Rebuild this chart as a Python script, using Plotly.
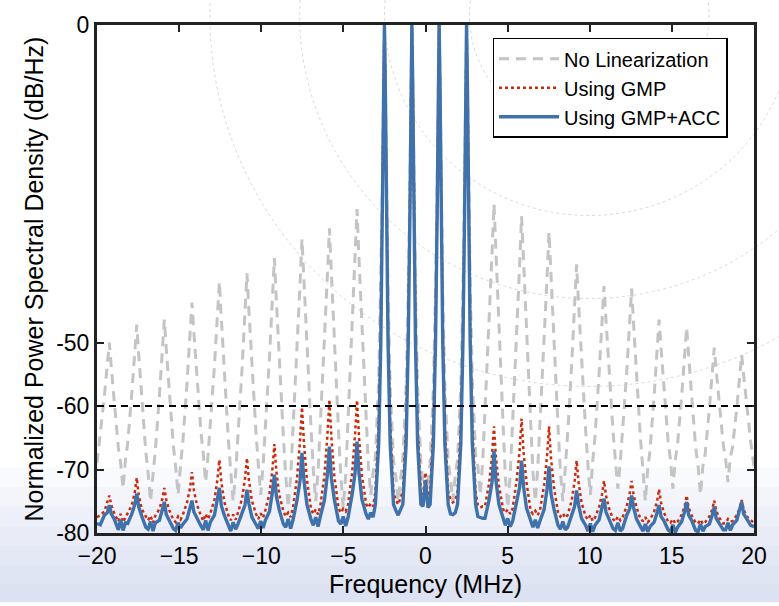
import plotly.graph_objects as go

# ---------------- data ----------------
freq_mhz = [
    -20.0,
    -19.8, -19.55, -19.37, -19.25, -19.13, -18.95, -18.7,
    -18.56, -18.415, -18.27,
    -18.13, -17.88, -17.7, -17.58, -17.46, -17.28, -17.03,
    -16.89, -16.74, -16.59,
    -16.45, -16.2, -16.02, -15.9, -15.78, -15.6, -15.35,
    -15.21, -15.06, -14.91,
    -14.77, -14.52, -14.34, -14.22, -14.1, -13.92, -13.67,
    -13.53, -13.385, -13.24,
    -13.1, -12.85, -12.67, -12.55, -12.43, -12.25, -12.0,
    -11.86, -11.71, -11.56,
    -11.42, -11.17, -10.99, -10.87, -10.75, -10.57, -10.32,
    -10.18, -10.035, -9.89,
    -9.75, -9.5, -9.32, -9.2, -9.08, -8.9, -8.65,
    -8.51, -8.36, -8.21,
    -8.07, -7.82, -7.64, -7.52, -7.4, -7.22, -6.97,
    -6.83, -6.685, -6.54,
    -6.4, -6.15, -5.97, -5.85, -5.73, -5.55, -5.3,
    -5.16, -5.01, -4.86,
    -4.72, -4.47, -4.29, -4.17, -4.05, -3.87, -3.62,
    -3.48, -3.335, -3.19,
    -3.05, -2.85, -2.72, -2.62, -2.55, -2.5, -2.45, -2.38, -2.28, -2.15, -1.95,
    -1.81, -1.665, -1.52,
    -1.38, -1.18, -1.05, -0.95, -0.88, -0.83, -0.78, -0.71, -0.61, -0.48, -0.28,
    -0.15, 0.0, 0.15,
    0.28, 0.48, 0.61, 0.71, 0.78, 0.83, 0.88, 0.95, 1.05, 1.18, 1.38,
    1.52, 1.665, 1.81,
    1.95, 2.15, 2.28, 2.38, 2.45, 2.5, 2.55, 2.62, 2.72, 2.85, 3.05,
    3.19, 3.335, 3.48,
    3.62, 3.87, 4.05, 4.17, 4.29, 4.47, 4.72,
    4.86, 5.01, 5.16,
    5.3, 5.55, 5.73, 5.85, 5.97, 6.15, 6.4,
    6.54, 6.685, 6.83,
    6.97, 7.22, 7.4, 7.52, 7.64, 7.82, 8.07,
    8.21, 8.36, 8.51,
    8.65, 8.9, 9.08, 9.2, 9.32, 9.5, 9.75,
    9.89, 10.035, 10.18,
    10.32, 10.57, 10.75, 10.87, 10.99, 11.17, 11.42,
    11.56, 11.71, 11.86,
    12.0, 12.25, 12.43, 12.55, 12.67, 12.85, 13.1,
    13.24, 13.385, 13.53,
    13.67, 13.92, 14.1, 14.22, 14.34, 14.52, 14.77,
    14.91, 15.06, 15.21,
    15.35, 15.6, 15.78, 15.9, 16.02, 16.2, 16.45,
    16.59, 16.74, 16.89,
    17.03, 17.28, 17.46, 17.58, 17.7, 17.88, 18.13,
    18.27, 18.415, 18.56,
    18.7, 18.95, 19.13, 19.25, 19.37, 19.55, 19.8,
    20.0,
]

psd_no_lin = [
    -69.0,
    -64.4, -58.4, -53.4, -50.0, -53.9, -59.7, -66.6,
    -69.0, -73.0, -68.5,
    -65.8, -58.0, -51.6, -47.2, -51.9, -58.9, -67.2,
    -70.5, -75.0, -70.8,
    -67.0, -58.4, -51.3, -46.4, -51.1, -58.0, -66.3,
    -69.6, -74.0, -69.2,
    -65.5, -56.4, -48.9, -43.7, -48.5, -55.6, -64.1,
    -67.5, -72.0, -67.8,
    -63.2, -53.7, -45.8, -40.4, -46.3, -54.9, -65.3,
    -70.3, -75.0, -70.6,
    -64.9, -54.2, -45.2, -39.1, -45.0, -53.8, -64.2,
    -69.2, -74.0, -69.5,
    -63.6, -52.4, -43.0, -36.7, -43.4, -53.2, -65.0,
    -71.0, -76.0, -71.2,
    -64.2, -51.5, -40.9, -33.7, -40.7, -51.0, -63.4,
    -70.0, -75.0, -70.3,
    -63.0, -50.1, -39.3, -32.0, -39.5, -50.5, -63.7,
    -70.8, -76.0, -71.0,
    -62.8, -48.7, -37.0, -29.0, -36.7, -47.9, -61.4,
    -69.2, -74.0, -70.5,
    -68.0, -56.0, -41.0, -25.0, -8.0, 0.0, -8.0, -25.0, -42.0, -57.0, -68.5,
    -71.0, -75.0, -71.5,
    -68.5, -57.0, -42.0, -25.0, -8.0, 0.0, -8.0, -25.0, -42.0, -57.0, -69.0,
    -72.0, -74.0, -72.0,
    -69.0, -57.0, -42.0, -25.0, -8.0, 0.0, -8.0, -25.0, -42.0, -57.0, -68.5,
    -71.5, -75.0, -71.0,
    -68.5, -57.0, -42.0, -25.0, -8.0, 0.0, -8.0, -25.0, -41.0, -56.0, -67.5,
    -69.5, -74.0, -68.8,
    -61.2, -47.4, -36.0, -28.2, -36.3, -48.3, -62.6,
    -71.1, -76.0, -70.8,
    -63.1, -49.4, -37.9, -30.1, -37.7, -49.0, -62.4,
    -70.3, -75.0, -70.0,
    -63.1, -50.4, -39.8, -32.6, -39.9, -50.5, -63.3,
    -70.1, -75.0, -69.7,
    -64.6, -53.4, -44.0, -37.7, -43.9, -52.9, -63.8,
    -69.3, -74.0, -68.7,
    -64.8, -54.9, -46.7, -41.1, -46.5, -54.5, -64.1,
    -68.5, -73.0, -68.8,
    -64.2, -54.7, -46.9, -41.5, -47.2, -55.6, -65.6,
    -70.1, -75.0, -69.9,
    -67.0, -58.4, -51.3, -46.4, -50.9, -57.6, -65.6,
    -68.3, -73.0, -68.5,
    -65.9, -58.3, -51.9, -47.6, -52.1, -58.7, -66.6,
    -69.2, -74.0, -69.4,
    -67.5, -60.5, -54.7, -50.8, -54.4, -59.7, -66.1,
    -68.3, -72.0, -68.1,
    -66.4, -60.3, -55.3, -51.9, -55.1, -59.9, -65.7,
    -69.5,
]

psd_gmp = [
    -77.5,
    -77.2, -76.6, -75.3, -74.1, -75.6, -76.9, -78.2,
    -77.0, -78.3, -77.6,
    -77.0, -75.6, -73.6, -71.3, -74.0, -76.2, -77.4,
    -78.0, -77.3, -78.4,
    -77.3, -76.2, -74.6, -72.9, -74.8, -76.4, -77.9,
    -78.3, -77.4, -77.9,
    -77.1, -75.2, -73.0, -70.4, -73.3, -75.5, -77.3,
    -78.1, -77.0, -77.8,
    -76.9, -74.8, -71.6, -68.5, -71.9, -75.1, -77.2,
    -78.0, -77.1, -77.9,
    -76.8, -74.6, -71.4, -68.2, -71.7, -74.9, -77.0,
    -77.8, -76.9, -77.6,
    -76.4, -73.8, -70.0, -66.0, -70.3, -74.0, -76.6,
    -77.4, -76.8, -77.5,
    -76.0, -71.3, -65.5, -60.2, -65.8, -71.6, -76.2,
    -77.0, -76.3, -77.1,
    -75.7, -70.8, -64.6, -59.0, -64.9, -71.0, -76.0,
    -76.8, -76.2, -76.6,
    -75.6, -70.6, -64.5, -59.1, -64.8, -70.9, -75.4,
    -76.0, -75.3, -75.8,
    -73.5, -63.0, -48.0, -29.0, -9.0, 0.0, -9.0, -29.0, -48.0, -63.0, -73.5,
    -74.8, -75.5, -74.5,
    -73.5, -63.0, -48.0, -29.0, -9.0, 0.0, -9.0, -29.0, -48.0, -63.0, -73.5,
    -74.0, -70.5, -74.2,
    -73.5, -63.0, -48.0, -29.0, -9.0, 0.0, -9.0, -29.0, -48.0, -63.0, -73.5,
    -74.6, -75.2, -74.9,
    -73.5, -63.0, -48.0, -29.0, -9.5, -0.8, -9.5, -29.0, -48.0, -63.0, -73.5,
    -75.6, -76.0, -75.8,
    -75.8, -72.2, -67.8, -63.2, -68.1, -72.5, -76.2,
    -76.8, -76.3, -77.0,
    -76.2, -71.7, -67.0, -62.0, -67.3, -72.0, -76.5,
    -77.0, -76.5, -77.2,
    -76.4, -72.5, -67.9, -63.2, -68.2, -72.8, -76.8,
    -77.4, -76.9, -77.6,
    -77.2, -74.9, -71.8, -68.6, -72.0, -75.2, -77.4,
    -77.9, -77.2, -78.1,
    -77.6, -75.9, -73.9, -71.8, -74.1, -76.1, -77.8,
    -78.2, -77.4, -78.0,
    -77.5, -75.8, -73.8, -71.8, -74.0, -76.0, -77.9,
    -78.1, -77.5, -78.3,
    -77.9, -76.6, -75.0, -73.1, -75.2, -76.8, -78.2,
    -78.4, -77.8, -78.5,
    -78.2, -77.1, -75.8, -74.1, -76.0, -77.2, -78.4,
    -78.5, -77.9, -78.6,
    -78.3, -77.4, -76.3, -74.9, -76.5, -77.6, -78.5,
    -78.4, -77.8, -78.2,
    -78.1, -77.2, -76.1, -74.8, -76.3, -77.4, -78.0,
    -78.4,
]

psd_gmp_acc = [
    -78.5,
    -78.7, -77.2, -76.8, -75.6, -77.0, -77.8, -79.5,
    -77.9, -79.6, -78.4,
    -78.5, -77.0, -75.5, -73.8, -75.9, -77.3, -79.1,
    -79.4, -78.2, -79.7,
    -78.4, -78.0, -76.4, -75.1, -77.1, -78.0, -79.3,
    -79.6, -78.4, -79.2,
    -78.6, -77.8, -76.1, -74.9, -76.7, -77.7, -78.9,
    -79.5, -78.0, -79.6,
    -78.3, -77.2, -75.0, -72.9, -75.7, -77.2, -78.8,
    -79.7, -78.3, -79.4,
    -78.6, -76.9, -75.6, -73.2, -75.4, -77.5, -78.5,
    -79.3, -78.1, -79.2,
    -78.0, -76.6, -73.6, -70.8, -74.2, -76.4, -78.6,
    -79.1, -77.8, -79.3,
    -78.0, -74.8, -71.8, -67.4, -71.7, -75.5, -77.9,
    -78.8, -77.5, -79.0,
    -77.4, -74.8, -70.7, -66.4, -71.4, -74.7, -78.1,
    -78.6, -77.4, -78.9,
    -77.6, -74.0, -70.6, -65.6, -70.5, -74.7, -77.0,
    -77.8, -76.8, -77.5,
    -75.5, -66.0, -50.0, -30.0, -9.0, 0.0, -9.0, -30.0, -50.0, -66.0, -75.5,
    -76.4, -77.2, -76.3,
    -75.5, -66.0, -50.0, -30.0, -9.0, 0.0, -9.0, -30.0, -50.0, -66.0, -75.5,
    -75.8, -71.7, -76.0,
    -75.5, -66.0, -50.0, -30.0, -9.0, 0.0, -9.0, -30.0, -50.0, -66.0, -75.5,
    -77.0, -77.1, -76.8,
    -75.5, -66.0, -50.0, -30.0, -9.0, 0.0, -9.0, -30.0, -50.0, -66.0, -75.5,
    -77.4, -77.6, -77.7,
    -77.7, -74.8, -72.0, -67.1, -71.8, -75.5, -77.6,
    -78.8, -77.7, -79.0,
    -78.2, -75.4, -72.8, -68.6, -72.7, -76.1, -78.0,
    -79.1, -77.9, -79.2,
    -78.1, -76.3, -73.1, -69.5, -73.8, -76.2, -78.8,
    -79.4, -78.2, -79.5,
    -79.1, -77.1, -75.8, -73.3, -75.6, -77.7, -78.8,
    -79.7, -78.5, -79.8,
    -78.8, -77.9, -76.1, -74.6, -76.7, -77.7, -79.3,
    -79.6, -78.4, -79.7,
    -79.3, -77.2, -76.2, -74.1, -76.0, -77.8, -79.0,
    -79.7, -78.6, -79.8,
    -79.0, -78.3, -76.8, -75.6, -77.4, -78.1, -79.5,
    -79.8, -78.7, -79.9,
    -79.1, -78.2, -76.6, -75.1, -77.2, -78.0, -79.6,
    -79.8, -78.6, -79.7,
    -79.0, -78.6, -77.2, -75.9, -77.7, -78.4, -79.5,
    -79.5, -78.4, -79.6,
    -78.7, -78.0, -76.4, -75.1, -77.0, -77.7, -78.8,
    -79.0,
]

series_names = ["No Linearization", "Using GMP", "Using GMP+ACC"]
x_ticks = [-20, -15, -10, -5, 0, 5, 10, 15, 20]
y_ticks = [-80, -70, -60, -50, 0]
y_tick_text = ["-80", "-70", "-60", "-50", "0"]
threshold_db = -60

# ---------------- figure ----------------
FONT = "Liberation Sans, Arial, Helvetica, sans-serif"
W, H = 779, 606
ML, MR, MT, MB = 97, 24, 17, 69
PW, PH = W - ML - MR, H - MT - MB

fig = go.Figure()
fig.add_trace(go.Scatter(x=freq_mhz, y=psd_no_lin, mode="lines", name=series_names[0],
                         line=dict(color="#c4c4c4", width=3, dash="10px,7px")))
fig.add_trace(go.Scatter(x=freq_mhz, y=psd_gmp, mode="lines", name=series_names[1],
                         line=dict(color="#cc2a0a", width=2.5, dash="3px,3px")))
fig.add_trace(go.Scatter(x=freq_mhz, y=psd_gmp_acc, mode="lines", name=series_names[2],
                         line=dict(color="#3f72ab", width=3.4)))

shapes = []
# threshold line
shapes.append(dict(type="line", xref="x", yref="y", x0=x_ticks[0], x1=x_ticks[-1],
                   y0=threshold_db, y1=threshold_db,
                   line=dict(color="black", width=2, dash="7px,5px"), layer="above"))


def px2paper(px, py):
    return (px - ML) / PW, (H - MB - py) / PH


# faint decorative circles
for r in [120, 205, 290, 380]:
    x0, y1 = px2paper(590 - r, 7 - r)
    x1, y0 = px2paper(590 + r, 7 + r)
    shapes.append(dict(type="circle", xref="paper", yref="paper", x0=x0, x1=x1, y0=y0, y1=y1,
                       line=dict(color="rgba(150,150,150,0.35)", width=1, dash="dot"),
                       layer="below"))
# soft blue gradient at the bottom
_, ybot = px2paper(0, H + 2)
xl, _ = px2paper(-2, 0)
xr, _ = px2paper(W + 2, 0)
for py in [470, 490, 510, 530, 550, 570, 590]:
    _, yt = px2paper(0, py)
    shapes.append(dict(type="rect", xref="paper", yref="paper", x0=xl, x1=xr, y0=ybot, y1=yt,
                       fillcolor="rgba(185,202,228,0.085)", line=dict(width=0), layer="below"))

fig.update_layout(
    width=W, height=H,
    margin=dict(l=ML, r=MR, t=MT, b=MB, pad=0),
    paper_bgcolor="white", plot_bgcolor="rgba(0,0,0,0)",
    font=dict(family=FONT, color="black", size=23),
    shapes=shapes,
    showlegend=True,
    legend=dict(x=0.602, y=0.975, xanchor="left", yanchor="top",
                bgcolor="white", bordercolor="black", borderwidth=1.5,
                font=dict(family=FONT, size=20, color="black"),
                itemwidth=60, tracegroupgap=0),
    xaxis=dict(range=[-20, 20], tickvals=x_ticks, ticks="inside", ticklen=7, tickwidth=2,
               tickcolor="#222", showline=True, linecolor="#222", linewidth=3, mirror="ticks",
               showgrid=False, zeroline=False,
               tickfont=dict(family=FONT, size=23),
               title=dict(text="Frequency (MHz)", font=dict(family=FONT, size=25), standoff=8)),
    yaxis=dict(range=[-80, 0], tickvals=y_ticks, ticktext=y_tick_text, ticks="inside",
               ticklen=7, tickwidth=2, tickcolor="#222", showline=True, linecolor="#222",
               linewidth=3, mirror="ticks", showgrid=False, zeroline=False,
               tickfont=dict(family=FONT, size=23),
               title=dict(text="Normalized Power Spectral Density (dB/Hz)",
                          font=dict(family=FONT, size=25), standoff=6)),
)

fig.write_html("out.html")
